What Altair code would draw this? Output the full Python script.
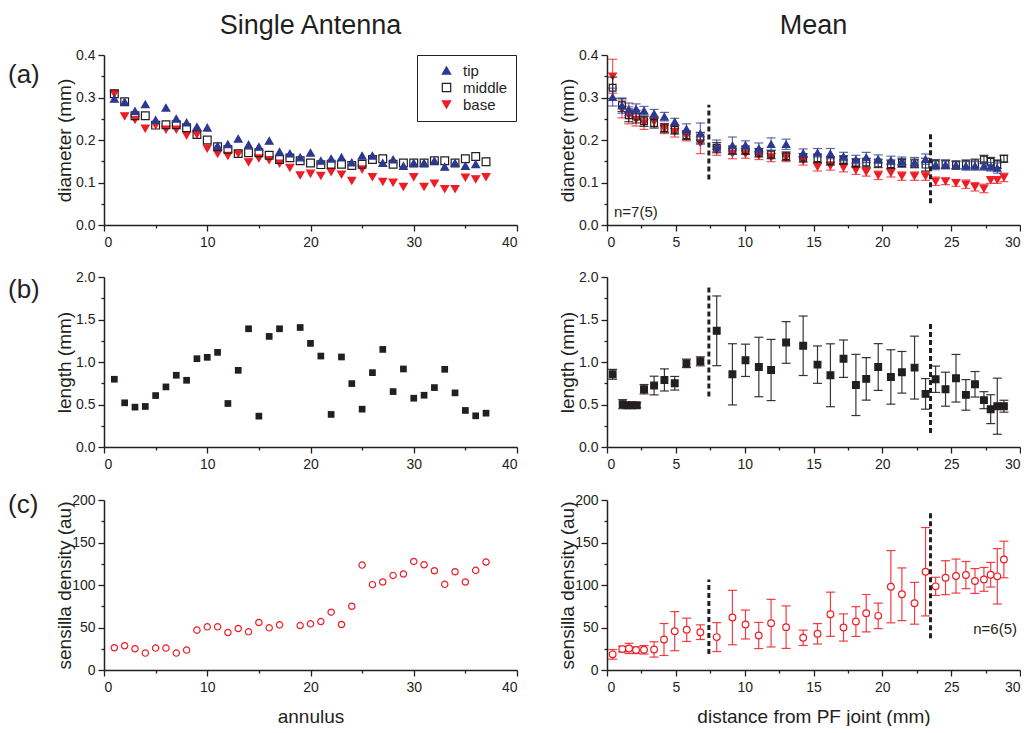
import altair as alt
import pandas as pd

FONT = "Liberation Sans"
BLUE = "#2B3990"
RED = "#EE1C25"
BLACK = "#231F20"

# ---------------- Single antenna data ----------------
annulus_tip = list(range(1, 37))
annulus_all = list(range(1, 38))
annulus_skip18 = list(range(1, 18)) + list(range(19, 38))

tip_single = [0.297, 0.290, 0.268, 0.284, 0.247, 0.276, 0.250, 0.241, 0.231, 0.229,
              0.186, 0.190, 0.203, 0.189, 0.184, 0.198, 0.172, 0.168, 0.159, 0.170,
              0.151, 0.156, 0.159, 0.147, 0.163, 0.163, 0.146, 0.154, 0.139, 0.146,
              0.146, 0.151, 0.137, 0.146, 0.139, 0.143]
middle_single = [0.309, 0.290, 0.257, 0.257, 0.235, 0.236, 0.236, 0.229, 0.213, 0.200,
                 0.184, 0.178, 0.168, 0.170, 0.170, 0.164, 0.154, 0.158, 0.151, 0.146,
                 0.142, 0.143, 0.143, 0.140, 0.143, 0.154, 0.156, 0.143, 0.146, 0.146,
                 0.146, 0.151, 0.151, 0.146, 0.156, 0.161, 0.149]
base_single = [0.309, 0.256, 0.248, 0.227, 0.235, 0.225, 0.225, 0.211, 0.213, 0.180,
               0.168, 0.163, 0.168, 0.148, 0.157, 0.153, 0.145, 0.135, 0.117, 0.121,
               0.116, 0.125, 0.119, 0.104, 0.131, 0.113, 0.102, 0.100, 0.090, 0.113,
               0.090, 0.098, 0.085, 0.085, 0.112, 0.108, 0.113]
length_single = [0.797, 0.520, 0.469, 0.477, 0.605, 0.707, 0.844, 0.785, 1.039, 1.055,
                 1.113, 0.512, 0.902, 1.391, 0.363, 1.301, 1.391, 1.406, 1.219, 1.070,
                 0.383, 1.059, 0.746, 0.445, 0.875, 1.148, 0.652, 0.918, 0.574, 0.609,
                 0.699, 0.914, 0.637, 0.430, 0.367, 0.398]
density_single = [26.2, 28.5, 25.0, 19.9, 25.8, 25.8, 19.9, 23.4, 46.9, 50.8,
                  50.8, 44.1, 48.8, 44.9, 55.9, 49.6, 53.1, 52.3, 54.3, 57.0,
                  68.0, 53.5, 75.0, 123.4, 100.4, 103.5, 111.3, 112.9, 127.7, 123.8,
                  116.8, 100.8, 115.6, 103.5, 117.2, 127.0]

# ---------------- Mean data ----------------
dist_a = [0.41, 1.09, 1.58, 2.11, 2.69, 3.42, 4.17, 4.92, 5.77, 6.78, 7.97, 9.11,
          10.06, 11.03, 11.92, 13.01, 14.25, 15.29, 16.23, 17.18, 18.08, 18.83,
          19.70, 20.62, 21.42, 22.34, 23.14, 23.87, 24.59, 25.35, 26.07, 26.73,
          27.38, 27.87, 28.35, 28.83]
tip_mean = [0.301, 0.281, 0.272, 0.273, 0.269, 0.262, 0.255, 0.243, 0.226, 0.215,
            0.186, 0.187, 0.188, 0.180, 0.190, 0.190, 0.169, 0.170, 0.168, 0.161,
            0.154, 0.159, 0.155, 0.152, 0.150, 0.147, 0.155, 0.142, 0.142, 0.141,
            0.139, 0.139, 0.139, 0.137, 0.134]
tip_err = [0.021, 0.018, 0.015, 0.012, 0.010, 0.010, 0.010, 0.008, 0.012, 0.025,
           0.014, 0.020, 0.010, 0.013, 0.015, 0.012, 0.010, 0.010, 0.012, 0.010,
           0.010, 0.012, 0.010, 0.010, 0.010, 0.012, 0.012, 0.012, 0.010, 0.008,
           0.010, 0.010, 0.010, 0.010, 0.012]
middle_mean = [0.323, 0.282, 0.258, 0.255, 0.244, 0.240, 0.228, 0.224, 0.211, 0.205,
               0.182, 0.176, 0.176, 0.170, 0.166, 0.162, 0.158, 0.157, 0.151, 0.153,
               0.146, 0.147, 0.145, 0.143, 0.146, 0.145, 0.142, 0.143, 0.143, 0.141,
               0.143, 0.145, 0.154, 0.149, 0.143, 0.156]
middle_err = [0.025, 0.015, 0.015, 0.015, 0.012, 0.012, 0.010, 0.010, 0.010, 0.012,
              0.012, 0.010, 0.010, 0.010, 0.010, 0.010, 0.010, 0.010, 0.010, 0.010,
              0.010, 0.010, 0.010, 0.010, 0.010, 0.010, 0.015, 0.010, 0.010, 0.010,
              0.010, 0.010, 0.010, 0.010, 0.010, 0.008]
base_mean = [0.350, 0.272, 0.258, 0.248, 0.240, 0.243, 0.227, 0.219, 0.210, 0.193,
             0.176, 0.168, 0.167, 0.164, 0.159, 0.159, 0.151, 0.137, 0.139, 0.135,
             0.129, 0.125, 0.117, 0.123, 0.115, 0.115, 0.115, 0.103, 0.103, 0.099,
             0.096, 0.090, 0.086, 0.106, 0.106, 0.112]
base_err = [0.040, 0.020, 0.020, 0.015, 0.015, 0.012, 0.012, 0.012, 0.012, 0.025,
            0.012, 0.012, 0.010, 0.010, 0.010, 0.010, 0.010, 0.010, 0.010, 0.010,
            0.010, 0.010, 0.010, 0.010, 0.010, 0.010, 0.010, 0.010, 0.008, 0.008,
            0.010, 0.010, 0.010, 0.008, 0.008, 0.010]

dist_b = [0.41, 1.14, 1.48, 1.82, 2.16, 2.69, 3.42, 4.17, 4.92, 5.77, 6.78, 7.97,
          9.11, 10.06, 11.03, 11.92, 13.01, 14.25, 15.29, 16.23, 17.18, 18.08,
          18.83, 19.70, 20.62, 21.42, 22.34, 23.14, 23.87, 24.59, 25.35, 26.07,
          26.73, 27.38, 27.87, 28.35, 28.83]
length_mean = [0.855, 0.504, 0.492, 0.492, 0.492, 0.680, 0.723, 0.789, 0.750, 0.984,
               1.008, 1.367, 0.855, 1.020, 0.941, 0.906, 1.230, 1.191, 0.969, 0.844,
               1.039, 0.730, 0.801, 0.941, 0.824, 0.879, 0.934, 0.625, 0.797, 0.680,
               0.809, 0.613, 0.738, 0.551, 0.445, 0.480, 0.480]
length_err = [0.058, 0.053, 0.030, 0.030, 0.030, 0.055, 0.110, 0.130, 0.080, 0.050,
              0.053, 0.410, 0.360, 0.190, 0.350, 0.360, 0.245, 0.350, 0.220, 0.370,
              0.220, 0.360, 0.250, 0.275, 0.320, 0.245, 0.370, 0.180, 0.155, 0.200,
              0.280, 0.180, 0.150, 0.100, 0.170, 0.330, 0.070]

dist_c = [0.41, 1.11, 1.60, 2.11, 2.69, 3.42, 4.14, 4.92, 5.79, 6.78, 7.97, 9.11,
          10.06, 11.02, 11.92, 13.01, 14.25, 15.29, 16.23, 17.18, 18.08, 18.83,
          19.70, 20.62, 21.42, 22.34, 23.14, 23.87, 24.59, 25.35, 26.07, 26.73,
          27.38, 27.87, 28.35, 28.83]
density_mean = [18.4, 24.6, 25.4, 23.4, 23.8, 24.2, 35.9, 45.7, 47.3, 44.5,
                38.7, 61.7, 53.5, 40.6, 55.1, 50.4, 37.9, 42.6, 65.6, 50.0,
                57.0, 66.8, 63.7, 98.0, 89.1, 78.5, 115.6, 98.4, 108.6, 110.5,
                111.7, 104.7, 106.6, 112.1, 110.2, 130.0]
density_err = [5.7, 3.5, 6.0, 4.0, 5.0, 9.0, 18.8, 23.0, 13.7, 8.6,
               17.0, 32.0, 17.0, 15.4, 28.0, 25.0, 9.0, 12.0, 26.0, 16.0,
               17.5, 22.0, 15.0, 42.5, 31.0, 24.6, 52.0, 10.7, 20.0, 20.0,
               16.0, 14.6, 14.0, 14.5, 32.6, 21.5]

# dashed boundary lines (x position, bottom, top) per mean panel
dash_x = [7.4, 23.5]
dash_a_lo, dash_a_hi = [0.107, 0.051], [0.283, 0.215]
dash_b_lo, dash_b_hi = [0.594, 0.164], [1.90, 1.461]
dash_c_lo, dash_c_hi = [18.8, 37.5], [106.6, 184.8]

series_names = ["tip", "middle", "base"]

# ---------------- layout constants ----------------
W, H = 413, 170
COLSP = 40
ROWSP = 21
TITLE_X = -30


def test_expr(step):
    return f"abs(datum.value/{step} - round(datum.value/{step})) < 0.000001"


def make_axis(values, step, fmt, title, orient_x=True):
    t = test_expr(step)
    kw = dict(values=values, format=fmt, labelExpr=f"({t}) ? datum.label : ''",
              tickSize={"condition": {"test": t, "value": 6}, "value": 3},
              title=title)
    if orient_x:
        kw.update(labelPadding=4, titlePadding=13)
    else:
        kw.update(labelPadding=3, titleX=TITLE_X)
    return alt.Axis(**kw)


def xs_left(title=None):
    return alt.Scale(domain=[0, 40], nice=False, zero=False), make_axis(list(range(0, 41, 5)), 10, "d", title)


def xs_right(title=None):
    vals = [i * 2.5 for i in range(13)]
    return alt.Scale(domain=[0, 30], nice=False, zero=False), make_axis(vals, 5, "d", title)


YA = (alt.Scale(domain=[0, 0.4], nice=False),
      make_axis([round(i * 0.05, 2) for i in range(9)], 0.1, ".1f", "diameter (mm)", False))
YB = (alt.Scale(domain=[0, 2.0], nice=False),
      make_axis([i * 0.25 for i in range(9)], 0.5, ".1f", "length (mm)", False))
YC = (alt.Scale(domain=[0, 200], nice=False),
      make_axis([i * 25 for i in range(9)], 50, "d", "sensilla density (au)", False))


def panel_label(txt, dy):
    return alt.Chart(pd.DataFrame({"t": [txt]})).mark_text(
        align="left", baseline="middle", fontSize=26, font=FONT, color=BLACK
    ).encode(x=alt.value(-96), y=alt.value(dy), text="t:N")


def note(txt, x, y, align):
    return alt.Chart(pd.DataFrame({"t": [txt]})).mark_text(
        align=align, baseline="middle", fontSize=15, font=FONT, color=BLACK
    ).encode(x=alt.value(x), y=alt.value(y), text="t:N")


def col_title(txt):
    return alt.TitleParams(txt, fontSize=27, font=FONT, fontWeight="normal", color=BLACK,
                           anchor="middle", frame="group", offset=8)


def err_layers(xvals, vals, errs, xsa, ysa, color, op, shape, fill, size):
    df = pd.DataFrame({"x": xvals, "y": vals, "e": errs})
    df["lo"] = df["y"] - df["e"]
    df["hi"] = df["y"] + df["e"]
    xsc, xax = xsa
    ysc, yax = ysa
    X = alt.X("x:Q", scale=xsc, axis=xax)
    b = alt.Chart(df)
    rule = b.mark_rule(color=color, strokeWidth=1.2, opacity=op).encode(
        x=X, y=alt.Y("lo:Q", scale=ysc, axis=yax), y2="hi:Q")
    cap1 = b.mark_tick(color=color, orient="horizontal", size=9, thickness=1.2, opacity=op).encode(
        x=X, y=alt.Y("lo:Q", scale=ysc, axis=yax))
    cap2 = b.mark_tick(color=color, orient="horizontal", size=9, thickness=1.2, opacity=op).encode(
        x=X, y=alt.Y("hi:Q", scale=ysc, axis=yax))
    pts = b.mark_point(shape=shape, fill=fill, stroke=color, strokeWidth=1.2, size=size,
                       opacity=1, filled=False).encode(x=X, y=alt.Y("y:Q", scale=ysc, axis=yax))
    return [rule, cap1, cap2, pts]


def dashes(lo, hi, xsa, ysa):
    df = pd.DataFrame({"x": dash_x, "lo": lo, "hi": hi})
    xsc, xax = xsa
    ysc, yax = ysa
    return alt.Chart(df).mark_rule(color=BLACK, strokeWidth=3, strokeDash=[5, 3]).encode(
        x=alt.X("x:Q", scale=xsc, axis=xax), y=alt.Y("lo:Q", scale=ysc, axis=yax), y2="hi:Q")


# ---------------- Row (a) ----------------
df_single_a = pd.concat([
    pd.DataFrame({"x": annulus_all, "y": base_single, "series": "base"}),
    pd.DataFrame({"x": annulus_all, "y": middle_single, "series": "middle"}),
    pd.DataFrame({"x": annulus_tip, "y": tip_single, "series": "tip"}),
], ignore_index=True)

leg = alt.Legend(title=None, orient="none", legendX=313, legendY=0, strokeColor=BLACK,
                 fillColor="white", padding=8, labelFontSize=15, labelFont=FONT,
                 labelColor=BLACK, symbolSize=70, symbolStrokeWidth=1.2, rowPadding=1,
                 symbolOffset=14, labelOffset=9)
xsc, xax = xs_left()
left_a = alt.layer(
    alt.Chart(df_single_a).mark_point(size=60, opacity=1, strokeWidth=1.2).encode(
        x=alt.X("x:Q", scale=xsc, axis=xax),
        y=alt.Y("y:Q", scale=YA[0], axis=YA[1]),
        shape=alt.Shape("series:N", scale=alt.Scale(domain=series_names,
                        range=["triangle-up", "square", "triangle-down"]), legend=leg),
        fill=alt.Fill("series:N", scale=alt.Scale(domain=series_names,
                      range=[BLUE, "transparent", RED]), legend=leg),
        stroke=alt.Stroke("series:N", scale=alt.Scale(domain=series_names,
                          range=[BLUE, BLACK, RED]), legend=leg),
    ),
    panel_label("(a)", 20),
).properties(width=W, height=H, title=col_title("Single Antenna"))

xra = xs_right()
right_a = alt.layer(
    *err_layers(dist_a, base_mean, base_err, xra, YA, RED, 0.75, "triangle-down", RED, 55),
    *err_layers(dist_a, middle_mean, middle_err, xra, YA, BLACK, 0.85, "square", "transparent", 45),
    *err_layers(dist_a[:len(tip_mean)], tip_mean, tip_err, xra, YA, BLUE, 0.75, "triangle-up", BLUE, 55),
    dashes(dash_a_lo, dash_a_hi, xra, YA),
    note("n=7(5)", 7, 157, "left"),
).properties(width=W, height=H, title=col_title("Mean"))

# ---------------- Row (b) ----------------
xsc, xax = xs_left()
left_b = alt.layer(
    alt.Chart(pd.DataFrame({"x": annulus_skip18, "y": length_single})).mark_square(
        size=45, color=BLACK, opacity=1).encode(
        x=alt.X("x:Q", scale=xsc, axis=xax), y=alt.Y("y:Q", scale=YB[0], axis=YB[1])),
    panel_label("(b)", 13),
).properties(width=W, height=H)

xrb = xs_right()
right_b = alt.layer(
    *err_layers(dist_b, length_mean, length_err, xrb, YB, BLACK, 0.9, "square", BLACK, 45),
    dashes(dash_b_lo, dash_b_hi, xrb, YB),
).properties(width=W, height=H)

# ---------------- Row (c) ----------------
xsc, xax = xs_left("annulus")
left_c = alt.layer(
    alt.Chart(pd.DataFrame({"x": annulus_skip18, "y": density_single})).mark_point(
        shape="circle", size=40, stroke=RED, strokeWidth=1.2, opacity=1, filled=False).encode(
        x=alt.X("x:Q", scale=xsc, axis=xax), y=alt.Y("y:Q", scale=YC[0], axis=YC[1])),
    panel_label("(c)", 5),
).properties(width=W, height=H)

xrc = xs_right("distance from PF joint (mm)")
right_c = alt.layer(
    *err_layers(dist_c, density_mean, density_err, xrc, YC, RED, 0.85, "circle", "white", 45),
    dashes(dash_c_lo, dash_c_hi, xrc, YC),
    note("n=6(5)", 410, 129, "right"),
).properties(width=W, height=H)

indep = dict(fill="independent", stroke="independent", shape="independent")
row_a = alt.hconcat(left_a, right_a, spacing=COLSP).resolve_scale(**indep)
row_b = alt.hconcat(left_b, right_b, spacing=COLSP).resolve_scale(**indep)
row_c = alt.hconcat(left_c, right_c, spacing=COLSP).resolve_scale(**indep)

chart = alt.vconcat(row_a, row_b, row_c, spacing=ROWSP).resolve_scale(**indep).properties(
    padding={"top": 4, "left": 0, "right": 0, "bottom": 0}
).configure(font=FONT).configure_axis(
    domainColor=BLACK, domainWidth=1.5, tickColor=BLACK, tickWidth=1.3,
    labelFont=FONT, labelFontSize=14, labelColor=BLACK,
    titleFont=FONT, titleFontSize=19, titleFontWeight="normal", titleColor=BLACK,
    grid=False
).configure_view(stroke=None)

chart.save("out.html", embed_options={"renderer": "svg", "actions": False})
